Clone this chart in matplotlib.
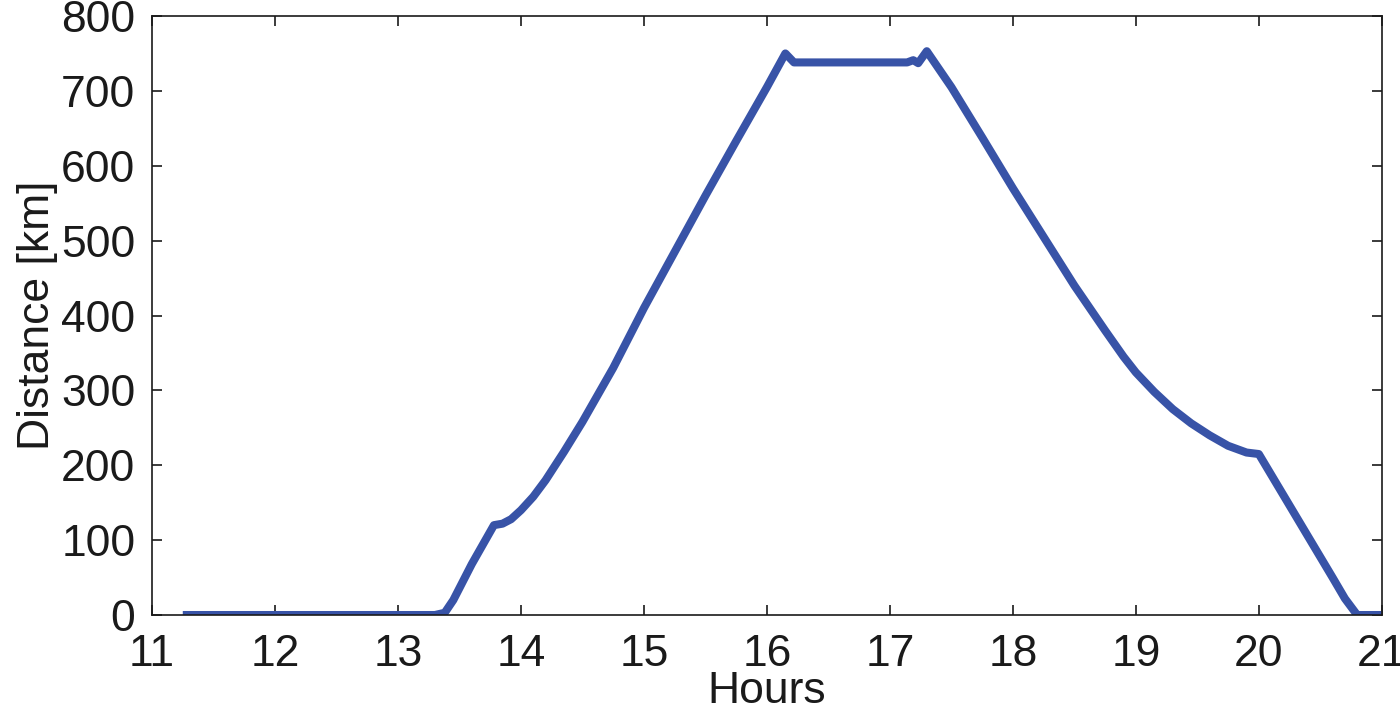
import matplotlib
matplotlib.use('Agg')
import matplotlib.pyplot as plt

plt.rcParams['font.family'] = ['Liberation Sans', 'DejaVu Sans']

# distance vs time
hours = [11.25, 12.0, 13.0, 13.3, 13.38, 13.45, 13.6, 13.78, 13.85, 13.92, 14.0, 14.1,
         14.2, 14.35, 14.5, 14.75, 15.0, 15.25, 15.5, 15.75, 16.0, 16.15, 16.22,
         16.5, 17.0, 17.14, 17.19, 17.23, 17.3, 17.5, 17.75, 18.0, 18.25, 18.5,
         18.75, 18.9, 19.0, 19.15, 19.3, 19.45, 19.6, 19.75, 19.9, 20.0, 20.2,
         20.4, 20.6, 20.7, 20.8, 21.0]
distance = [0, 0, 0, 0, 3, 20, 68, 120, 122, 128, 140, 158,
            180, 218, 258, 330, 410, 485, 560, 633, 705, 750, 738,
            738, 738, 738, 741, 737, 753, 705, 638, 570, 505, 440,
            380, 345, 324, 298, 275, 256, 240, 226, 217, 215, 160,
            105, 50, 22, 0, 0]

xticks = list(range(11, 22))
yticks = list(range(0, 801, 100))

fig = plt.figure(figsize=(14, 7.11), dpi=100)
ax = fig.add_axes([0.1086, 0.135, 0.8784, 0.8425])
ax.plot(hours, distance, color='#3853a7', linewidth=5.8, solid_joinstyle='round',
        solid_capstyle='butt')

ax.set_xlim(11, 21)
ax.set_ylim(0, 800)
ax.set_xticks(xticks)
ax.set_yticks(yticks)
ax.tick_params(direction='in', length=7, width=1.2, labelsize=32, top=True,
               right=True, colors='#1a1a1a')
ax.tick_params(axis='y', pad=12)
ax.tick_params(axis='x', pad=14)
for s in ax.spines.values():
    s.set_linewidth(1.2)
    s.set_color('#1a1a1a')

ax.set_xlabel('Hours', fontsize=32, color='#1a1a1a', labelpad=-3)
ax.set_ylabel('Distance [km]', fontsize=32, color='#1a1a1a', labelpad=2)

fig.savefig('out.png', dpi=100)
